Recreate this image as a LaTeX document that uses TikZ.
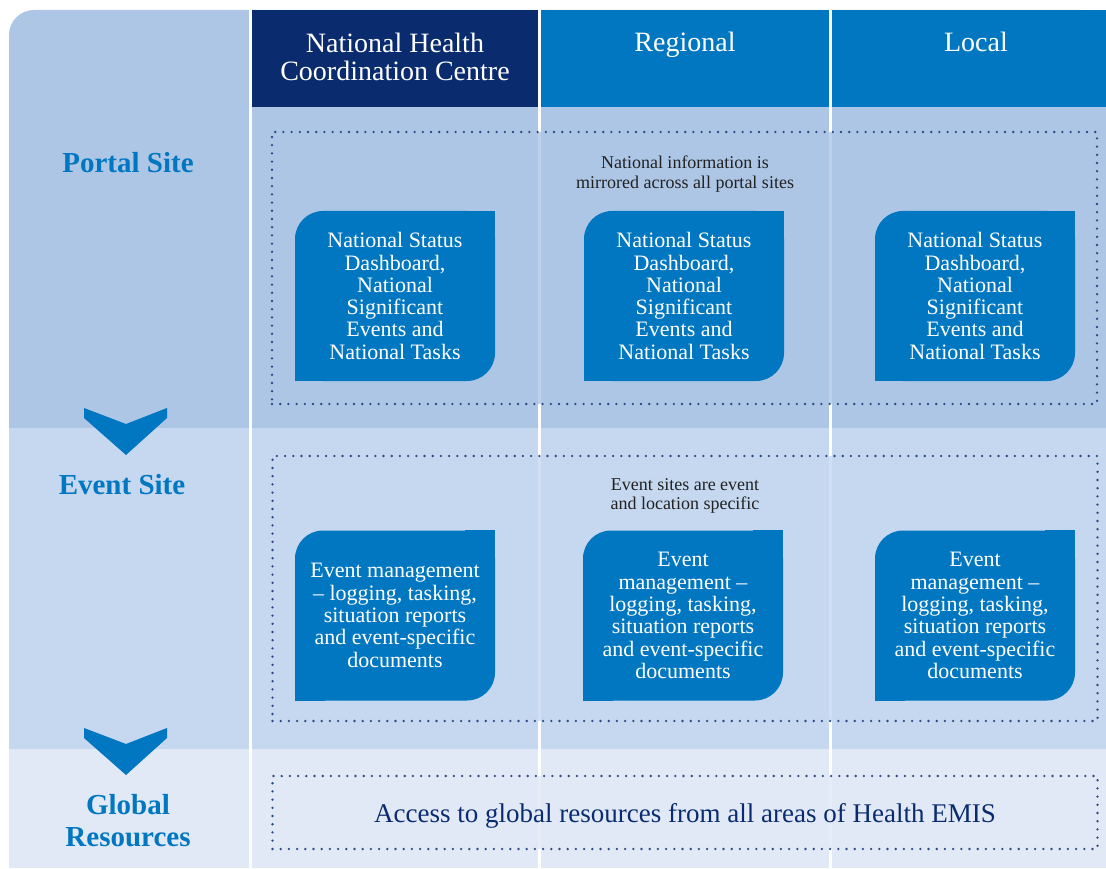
\documentclass[tikz,border=0pt]{standalone}
\usepackage{fontspec}
\setmainfont{Liberation Serif}
\usetikzlibrary{positioning}

\definecolor{navy}{HTML}{0A2C6F}
\definecolor{boxblue}{HTML}{0077C0}
\definecolor{rowA}{HTML}{ADC6E6}
\definecolor{rowB}{HTML}{C5D8F0}
\definecolor{rowC}{HTML}{E1E9F6}
\definecolor{dotblue}{HTML}{2B4A85}
\definecolor{notegray}{HTML}{222222}

\begin{document}
\begin{tikzpicture}[
    x=1pt, y=-1pt,
    header/.style={font=\fontsize{28}{28}\selectfont, text=white, align=center, inner sep=0pt},
    sitelabel/.style={font=\bfseries\fontsize{29}{32}\selectfont, text=boxblue, align=center, inner sep=0pt},
    area/.style={draw=dotblue, line width=2.6pt, line cap=round, dash pattern=on 0pt off 8.2pt,
        fill opacity=0.8, text opacity=1, minimum width=825pt, inner sep=0pt},
    note/.style={font=\fontsize{18}{19.5}\selectfont, text=notegray, align=center, inner sep=0pt},
    infobox/.style={fill=boxblue, rounded corners=28pt, minimum width=200pt, minimum height=170pt,
        text=white, align=center, inner sep=0pt, font=\fontsize{22}{22.3}\selectfont}
]
    \useasboundingbox (0,0) rectangle (1106,869);

    % Rows
    \fill[rowA, rounded corners=25pt] (9,10) rectangle (1106,460);
    \fill[rowB] (9,428) rectangle (1106,749);
    \fill[rowC] (9,749) rectangle (1106,868);

    % Header cells
    \fill[navy] (252,10) rectangle (538,107);
    \fill[boxblue] (541,10) rectangle (829,107);
    \fill[boxblue] (832,10) rectangle (1106,107);
    \foreach \x in {250,539.5,830.5}
        \draw[white, line width=3pt] (\x,10) -- (\x,868);

    \node[header] (nhcc) at (395,57) {National Health\\Coordination Centre};
    \node[header, anchor=base] (regional) at (685,52) {Regional};
    \node[header, anchor=base] (local) at (976,52) {Local};

    % Site labels and chevrons
    \node[sitelabel] (portal) at (128,163) {Portal Site};
    \node[sitelabel] (event) at (122,485) {Event Site};
    \node[sitelabel] (global) at (128,821) {Global\\Resources};
    \fill[boxblue] (84,408) -- (84,418) -- (126,455) -- (167,418) -- (167,408) -- (126,424) -- cycle;
    \fill[boxblue] (84,728) -- (84,738) -- (126,775) -- (167,738) -- (167,728) -- (126,744) -- cycle;

    % Dotted areas
    \node[area, fill=rowA, minimum height=272pt] (portalarea) at (684.5,268) {};
    \node[area, fill=rowB, minimum height=265pt] (eventarea) at (685,588.5) {};
    \node[area, fill=rowC, minimum height=73pt, text=navy, font=\fontsize{27}{30}\selectfont]
        (globalarea) at (685,812.5) {};
    \node[text=navy, font=\fontsize{27}{30}\selectfont, inner sep=0pt] (globaltext) at (685,816)
        {Access to global resources from all areas of Health EMIS};

    \node[note] (portalnote) at (685,174) {National information is\\mirrored across all portal sites};
    \node[note] (eventnote) at (685,496) {Event sites are event\\and location specific};

    % Portal boxes
    \foreach \col/\x in {nh/395, rg/684, lc/975} {
        \node[infobox] (portal\col) at (\x,296)
            {National Status\\Dashboard,\\National\\Significant\\Events and\\National Tasks};
    }

    % Event boxes
    \node[infobox] (eventnh) at (395,615.5)
        {Event management\\– logging, tasking,\\situation reports\\and event-specific\\documents};
    \node[infobox] (eventrg) at (683,615.5)
        {Event\\management –\\logging, tasking,\\situation reports\\and event-specific\\documents};
    \node[infobox] (eventlc) at (975,615.5)
        {Event\\management –\\logging, tasking,\\situation reports\\and event-specific\\documents};

    % Square corners
    \foreach \b in {portalnh, portalrg, portallc, eventnh, eventrg, eventlc} {
        \fill[boxblue] (\b.north east) rectangle ++(-30,30);
        \fill[boxblue] (\b.south west) rectangle ++(30,-30);
    }
\end{tikzpicture}
\end{document}
